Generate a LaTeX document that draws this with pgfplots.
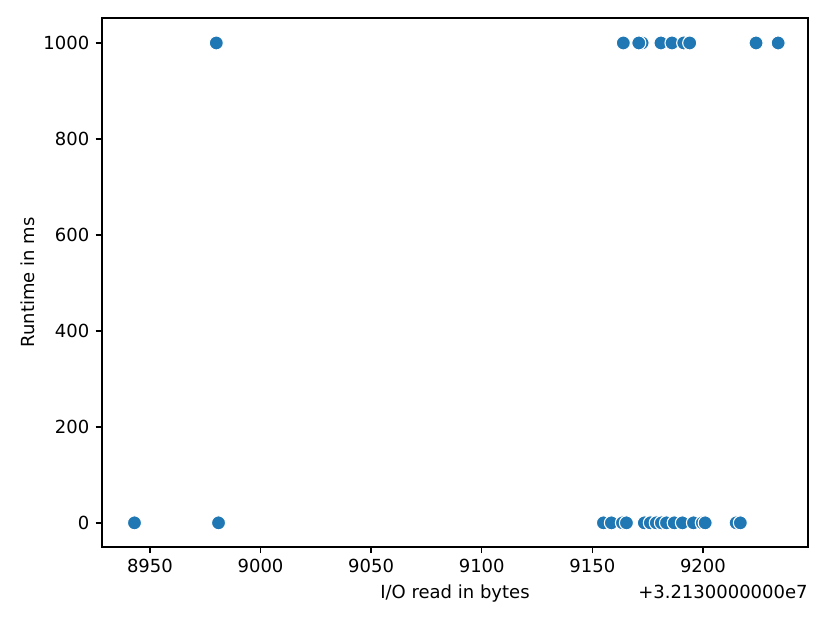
\documentclass[border=0pt]{standalone}
\usepackage{fontspec}
\setmainfont{DejaVu Sans}
\usepackage{pgfplots}
\pgfplotsset{compat=1.18}
\definecolor{tabblue}{HTML}{1F77B4}

\begin{document}
\begin{tikzpicture}
\begin{axis}[
  scale only axis,
  width=392pt, height=293.6pt,
  xmin=8928.3, xmax=9247.5,
  ymin=-50, ymax=1052,
  xtick={8950,9000,9050,9100,9150,9200},
  ytick={0,200,400,600,800,1000},
  /pgf/number format/assume math mode=true,
  /pgf/number format/1000 sep={},
  tick label style={font=\fontsize{10}{12}\selectfont},
  label style={font=\fontsize{10}{12}\selectfont},
  tick align=outside, tick pos=left,
  major tick length=3.5pt,
  every tick/.style={black, line width=0.8pt},
  axis line style={line width=0.8pt},
  xlabel={I/O read in bytes},
  ylabel={Runtime in ms},
  xlabel style={yshift=0.5pt},
  ylabel style={yshift=-2pt},
  clip=false,
]
% x values shown relative to the offset +3.2130000000e7
\addplot[only marks, mark=*, mark size=3.9pt,
  mark options={fill=tabblue, draw=white, line width=0.6pt}] coordinates {
  (8943,0) (8981,0)
  (9155,0) (9158.6,0) (9163.6,0) (9165.4,0) (9173.5,0) (9176.2,0)
  (9178.9,0) (9181.2,0) (9183.5,0) (9187,0) (9190.7,0) (9195.7,0)
  (9199.7,0) (9201,0) (9215,0) (9216.9,0)
  (8980,1000)
  (9164,1000) (9172.5,1000) (9171,1000) (9181,1000) (9186,1000)
  (9191.3,1000) (9194,1000) (9224,1000) (9234,1000)
};
\end{axis}
\node[anchor=north east, font=\fontsize{10}{12}\selectfont, inner sep=0pt]
  at ([yshift=-21pt]current axis.south east) {+3.2130000000e7};
\useasboundingbox ([shift={(-56.6pt,-42.2pt)}]current axis.south west)
  rectangle ([shift={(12.2pt,10pt)}]current axis.north east);
\end{tikzpicture}
\end{document}
